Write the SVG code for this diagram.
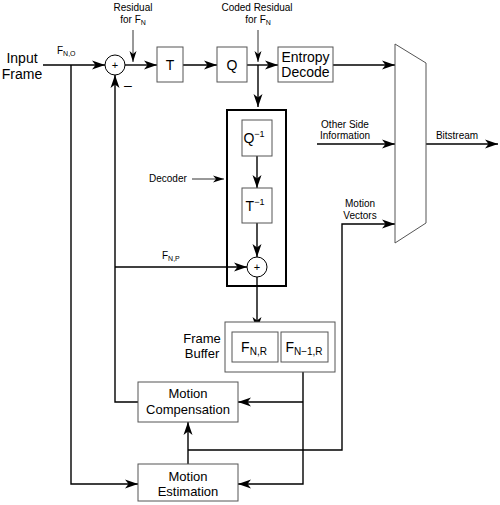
<svg xmlns="http://www.w3.org/2000/svg" width="500" height="505" viewBox="0 0 500 505">
<defs>
<marker id="ah" markerUnits="userSpaceOnUse" markerWidth="14" markerHeight="10" refX="13" refY="5" orient="auto">
<path d="M0,0.5 L13,5 L0,9.5 L3.5,5 z" fill="#000"/>
</marker>
<marker id="ahs" markerUnits="userSpaceOnUse" markerWidth="12" markerHeight="8" refX="11" refY="4" orient="auto">
<path d="M0,0.5 L11,4 L0,7.5 L3,4 z" fill="#000"/>
</marker>
</defs>
<style>
text{font-family:"Liberation Sans",Arial,sans-serif;fill:#000}
.lbl{font-size:14px}
.mid{font-size:13px}
.sm{font-size:10px}
.box{fill:#fff;stroke:#555;stroke-width:1}
.c{fill:none;stroke:#000;stroke-width:1.4}
.t{fill:none;stroke:#333;stroke-width:1}
</style>
<rect width="500" height="505" fill="#fff"/>

<g id="labels">
<text class="lbl" x="22" y="63" text-anchor="middle">Input</text>
<text class="lbl" x="22" y="79" text-anchor="middle">Frame</text>
<text class="sm" x="57" y="54">F<tspan font-size="7" dy="2">N,O</tspan></text>
<text class="sm" x="133" y="11" text-anchor="middle">Residual</text>
<text class="sm" x="133" y="23" text-anchor="middle">for F<tspan font-size="7" dy="2">N</tspan></text>
<text class="sm" x="257" y="11" text-anchor="middle">Coded Residual</text>
<text class="sm" x="258" y="23" text-anchor="middle">for F<tspan font-size="7" dy="2">N</tspan></text>
<text class="lbl" x="128" y="90" text-anchor="middle">–</text>
<text class="sm" x="149" y="182">Decoder</text>
<text class="sm" x="162" y="259">F<tspan font-size="7" dy="2">N,P</tspan></text>
<text class="sm" x="345" y="128" text-anchor="middle">Other Side</text>
<text class="sm" x="345" y="139" text-anchor="middle">Information</text>
<text class="sm" x="457" y="139" text-anchor="middle">Bitstream</text>
<text class="sm" x="360" y="207" text-anchor="middle">Motion</text>
<text class="sm" x="360" y="219" text-anchor="middle">Vectors</text>
<text class="mid" x="202" y="343" text-anchor="middle">Frame</text>
<text class="mid" x="202" y="358" text-anchor="middle">Buffer</text>
</g>

<g id="connectors">
<path class="c" d="M43,65 H105" marker-end="url(#ah)"/>
<path class="c" d="M71,65 V484 H138" marker-end="url(#ah)"/>
<path class="t" d="M133,30 V62" marker-end="url(#ahs)"/>
<path class="c" d="M125,65 H157" marker-end="url(#ah)"/>
<path class="c" d="M183,65 H217" marker-end="url(#ah)"/>
<path class="c" d="M247,65 H278" marker-end="url(#ah)"/>
<path class="t" d="M258,30 V62" marker-end="url(#ahs)"/>
<path class="c" d="M258,65 V107" marker-end="url(#ah)"/>
<path class="c" d="M333,65 H395" marker-end="url(#ah)"/>
<path class="c" d="M257,156 V188" marker-end="url(#ah)"/>
<path class="c" d="M257,223 V257" marker-end="url(#ah)"/>
<path class="c" d="M138,402 H115 V75" marker-end="url(#ah)"/>
<path class="c" d="M115,267 H247" marker-end="url(#ah)"/>
<path class="c" d="M257,277 V330" marker-end="url(#ah)"/>
<path class="c" d="M303,364 V484 H238" marker-end="url(#ah)"/>
<path class="c" d="M303,402 H238" marker-end="url(#ah)"/>
<path class="c" d="M188,464 V422" marker-end="url(#ah)"/>
<path class="c" d="M188,450 H342 V224 H395" marker-end="url(#ah)"/>
<path class="c" d="M317,144 H395" marker-end="url(#ah)"/>
<path class="c" d="M426,144 H498" marker-end="url(#ah)"/>
<path class="t" d="M192,179 H224" marker-end="url(#ahs)"/>
</g>

<g id="adder1">
<circle cx="115" cy="65" r="10" fill="#fff" stroke="#000" stroke-width="1"/>
<text x="115" y="69" font-size="11" text-anchor="middle">+</text>
</g>
<g id="T">
<rect class="box" x="157" y="47" width="26" height="35"/>
<text class="lbl" x="170" y="70" text-anchor="middle">T</text>
</g>
<g id="Q">
<rect class="box" x="217" y="47" width="30" height="35"/>
<text class="lbl" x="232" y="70" text-anchor="middle">Q</text>
</g>
<g id="entropy">
<rect class="box" x="278" y="47" width="55" height="35"/>
<text class="lbl" x="305.5" y="62" text-anchor="middle">Entropy</text>
<text class="lbl" x="305.5" y="77" text-anchor="middle">Decode</text>
</g>
<g id="mux">
<path d="M395,44 L426,63 L426,223 L395,243 Z" fill="#fff" stroke="#555" stroke-width="1"/>
</g>
<g id="decoder">
<rect x="227" y="110" width="59" height="176" fill="none" stroke="#000" stroke-width="2"/>
</g>
<g id="Qinv">
<rect class="box" x="242" y="120" width="30" height="36"/>
<text class="lbl" x="254" y="143" text-anchor="middle">Q<tspan font-size="9" dy="-6">−1</tspan></text>
</g>
<g id="Tinv">
<rect class="box" x="242" y="188" width="30" height="35"/>
<text class="lbl" x="255" y="211" text-anchor="middle">T<tspan font-size="9" dy="-6">−1</tspan></text>
</g>
<g id="adder2">
<circle cx="257" cy="267" r="10" fill="#fff" stroke="#000" stroke-width="1"/>
<text x="257" y="271" font-size="11" text-anchor="middle">+</text>
</g>
<g id="framebuffer">
<rect class="box" x="225" y="322" width="110" height="50"/>
<rect class="box" x="232" y="332" width="46" height="30"/>
<text class="lbl" x="254" y="352" text-anchor="middle">F<tspan font-size="10" dy="3">N,R</tspan></text>
<rect class="box" x="281" y="332" width="47" height="30"/>
<text class="lbl" x="304" y="352" text-anchor="middle">F<tspan font-size="10" dy="3">N−1,R</tspan></text>
</g>
<g id="mc">
<rect class="box" x="138" y="382" width="100" height="40"/>
<text class="mid" x="188" y="398" text-anchor="middle">Motion</text>
<text class="mid" x="188" y="414" text-anchor="middle">Compensation</text>
</g>
<g id="me">
<rect class="box" x="138" y="464" width="100" height="37"/>
<text class="mid" x="188" y="481" text-anchor="middle">Motion</text>
<text class="mid" x="188" y="496" text-anchor="middle">Estimation</text>
</g>
</svg>
